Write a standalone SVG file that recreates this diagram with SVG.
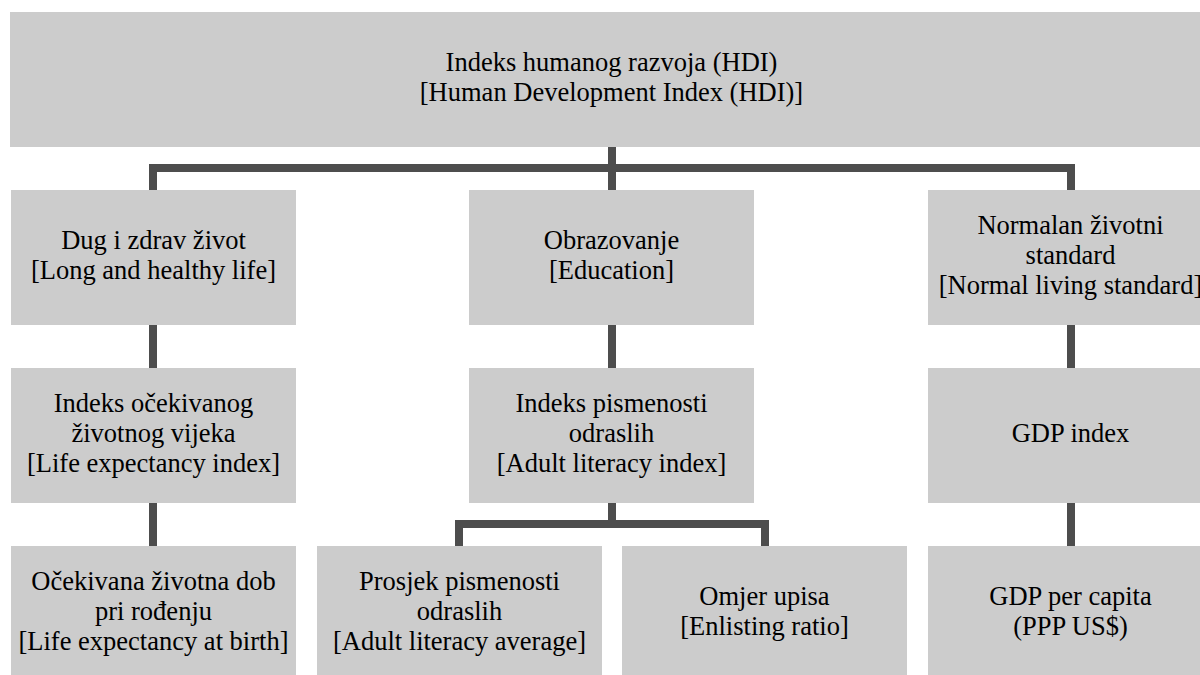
<svg xmlns="http://www.w3.org/2000/svg" width="1200" height="675" viewBox="0 0 1200 675">
<style>
.box{fill:#cccccc;}
text{font-family:'Liberation Serif','Times New Roman',serif;font-size:26.5px;fill:#000000;text-anchor:middle;}
.c{fill:none;stroke:#4d4d4d;stroke-width:8;stroke-linejoin:miter;stroke-linecap:butt;}
</style>
<rect width="1200" height="675" fill="#ffffff"/>
<g id="connectors">
<path class="c" d="M612,147 V190"/>
<path class="c" d="M153,190 V168 H1071 V190"/>
<path class="c" d="M153,325 V368"/>
<path class="c" d="M153,503 V546"/>
<path class="c" d="M612,325 V368"/>
<path class="c" d="M612,503 V524"/>
<path class="c" d="M459,546 V524 H765 V546"/>
<path class="c" d="M1071,325 V368"/>
<path class="c" d="M1071,503 V546"/>
</g>
<g id="hdi">
<rect class="box" x="10" y="12" width="1203" height="135"/>
<text x="611.5" y="71">Indeks humanog razvoja (HDI)</text>
<text x="611.5" y="101">[Human Development Index (HDI)]</text>
</g>
<g id="long-life">
<rect class="box" x="11" y="190" width="285" height="135"/>
<text x="153.5" y="249">Dug i zdrav život</text>
<text x="153.5" y="279">[Long and healthy life]</text>
</g>
<g id="education">
<rect class="box" x="469" y="190" width="285" height="135"/>
<text x="611.5" y="249">Obrazovanje</text>
<text x="611.5" y="279">[Education]</text>
</g>
<g id="living-standard">
<rect class="box" x="928" y="190" width="285" height="135"/>
<text x="1070.5" y="234">Normalan životni</text>
<text x="1070.5" y="264">standard</text>
<text x="1070.5" y="294">[Normal living standard]</text>
</g>
<g id="life-expectancy-index">
<rect class="box" x="11" y="368" width="285" height="135"/>
<text x="153.5" y="412">Indeks očekivanog</text>
<text x="153.5" y="442">životnog vijeka</text>
<text x="153.5" y="472">[Life expectancy index]</text>
</g>
<g id="adult-literacy-index">
<rect class="box" x="469" y="368" width="285" height="135"/>
<text x="611.5" y="412">Indeks pismenosti</text>
<text x="611.5" y="442">odraslih</text>
<text x="611.5" y="472">[Adult literacy index]</text>
</g>
<g id="gdp-index">
<rect class="box" x="928" y="368" width="285" height="135"/>
<text x="1070.5" y="442">GDP index</text>
</g>
<g id="life-expectancy-birth">
<rect class="box" x="11" y="546" width="285" height="135"/>
<text x="153.5" y="590">Očekivana životna dob</text>
<text x="153.5" y="620">pri rođenju</text>
<text x="153.5" y="650">[Life expectancy at birth]</text>
</g>
<g id="adult-literacy-average">
<rect class="box" x="317" y="546" width="285" height="135"/>
<text x="459.5" y="590">Prosjek pismenosti</text>
<text x="459.5" y="620">odraslih</text>
<text x="459.5" y="650">[Adult literacy average]</text>
</g>
<g id="enlisting-ratio">
<rect class="box" x="622" y="546" width="285" height="135"/>
<text x="764.5" y="605">Omjer upisa</text>
<text x="764.5" y="635">[Enlisting ratio]</text>
</g>
<g id="gdp-per-capita">
<rect class="box" x="928" y="546" width="285" height="135"/>
<text x="1070.5" y="605">GDP per capita</text>
<text x="1070.5" y="635">(PPP US$)</text>
</g>
</svg>
